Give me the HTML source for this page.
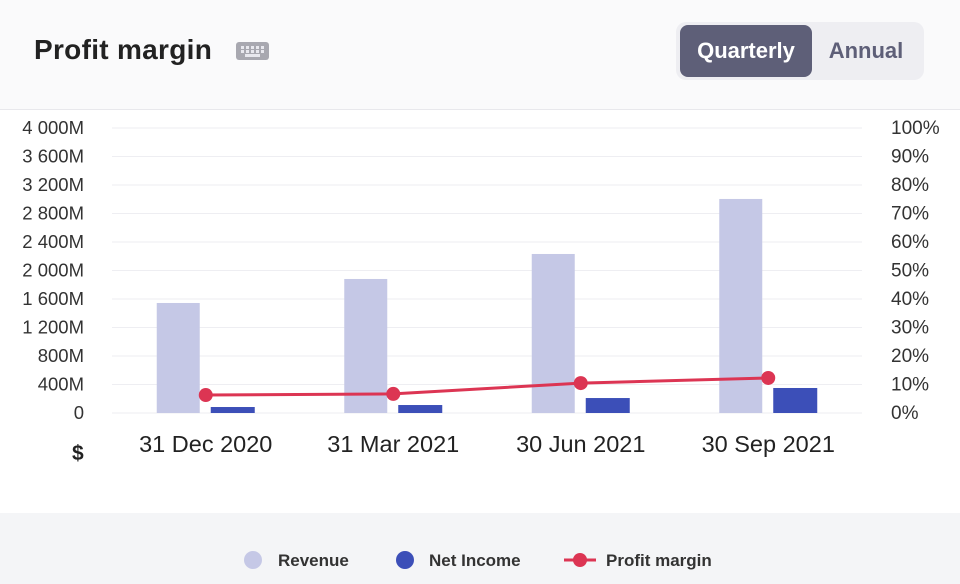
<!DOCTYPE html>
<html><head><meta charset="utf-8"><style>
body{margin:0;width:960px;height:584px;overflow:hidden;background:#fff;font-family:"Liberation Sans",sans-serif;}
#hdr{position:absolute;left:0;top:0;width:960px;height:109px;background:#fafafb;border-bottom:1px solid #e8e8ec;}
#title{position:absolute;left:34px;top:34px;font-size:28px;font-weight:bold;color:#222;letter-spacing:0.3px;}
#kbd{position:absolute;left:236px;top:42px;width:33px;height:18px;background:#a8a8b0;border-radius:3px;}
#toggle{position:absolute;left:676px;top:22px;width:248px;height:58px;background:#eeeef2;border-radius:10px;}
#q{position:absolute;left:4px;top:3px;width:132px;height:52px;background:#5e5f78;border-radius:8px;color:#fff;font-size:22px;font-weight:bold;line-height:52px;text-align:center;}
#a{position:absolute;left:146px;top:3px;width:88px;height:52px;color:#5e5f78;font-size:22px;font-weight:bold;line-height:52px;text-align:center;}
#leg{position:absolute;left:0;top:513px;width:960px;height:71px;background:#f4f5f7;}
</style></head><body>
<div id="hdr">
<div id="title">Profit margin</div>
<div id="kbd"><svg width="33" height="18"><g fill="#e8e8ee"><rect x="5" y="4" width="3" height="3"/><rect x="10" y="4" width="3" height="3"/><rect x="15" y="4" width="3" height="3"/><rect x="20" y="4" width="3" height="3"/><rect x="25" y="4" width="3" height="3"/><rect x="5" y="8" width="3" height="3"/><rect x="10" y="8" width="3" height="3"/><rect x="15" y="8" width="3" height="3"/><rect x="20" y="8" width="3" height="3"/><rect x="25" y="8" width="3" height="3"/><rect x="9" y="12" width="15" height="3"/></g></svg></div>
<div id="toggle">
<div id="q">Quarterly</div>
<div id="a">Annual</div>
</div></div>
<svg id="chart" width="960" height="584" style="position:absolute;left:0;top:0"></svg>
<div id="leg"></div>
<svg width="960" height="71" style="position:absolute;left:0;top:513px" font-family="Liberation Sans, sans-serif" font-size="17" font-weight="bold" fill="#333">
<g><circle cx="253" cy="47" r="9" fill="#c5c8e6"/><text x="278" y="53">Revenue</text></g>
<g><circle cx="405" cy="47" r="9" fill="#3c4fb8"/><text x="429" y="53">Net Income</text></g>
<g><line x1="564" y1="47" x2="596" y2="47" stroke="#dc3553" stroke-width="3"/><circle cx="580" cy="47" r="7" fill="#dc3553"/><text x="606" y="53">Profit margin</text></g>
</svg>
<script>
const categories=["31 Dec 2020","31 Mar 2021","30 Jun 2021","30 Sep 2021"];
const revenue=[1544,1881,2232,3004];
const netIncome=[84,112,210,351];
const margin=[6.3,6.7,10.5,12.3];
const leftTicks=["0","400M","800M","1 200M","1 600M","2 000M","2 400M","2 800M","3 200M","3 600M","4 000M"];
const rightTicks=["0%","10%","20%","30%","40%","50%","60%","70%","80%","90%","100%"];
const NS="http://www.w3.org/2000/svg";
const svg=document.getElementById('chart');
const x0=112,x1=862,y0=413,y1=128,band=(x1-x0)/categories.length;
const yL=v=>y0-(v/4000)*(y0-y1);
const yR=v=>y0-(v/100)*(y0-y1);
const cx=i=>x0+band*(i+0.5);
function mk(t,a){const e=document.createElementNS(NS,t);for(const k in a)e.setAttribute(k,a[k]);svg.appendChild(e);return e;}
for(let i=0;i<leftTicks.length;i++){
 const y=y0-i*(y0-y1)/10;
 const g=mk('line',{x1:x0,x2:x1,y1:y,y2:y,stroke:'#eeeef2','stroke-width':1});
 
 
 const t=mk('text',{x:84,y:y+6,'text-anchor':'end','font-size':18.5,fill:'#333','font-family':'Liberation Sans, sans-serif'});
 t.textContent=leftTicks[i];
 
 
 const r=mk('text',{x:891,y:y+6,'font-size':19,fill:'#333','font-family':'Liberation Sans, sans-serif'});
 r.textContent=rightTicks[i];
 
 
}
const cur=mk('text',{x:72,y:460,'font-size':21,'font-weight':'bold',fill:'#222','font-family':'Liberation Sans, sans-serif'});
cur.textContent='$';


categories.forEach((c,i)=>{
 const b=mk('rect',{x:cx(i)-49,y:yL(revenue[i]),width:43,height:y0-yL(revenue[i]),fill:'#c5c8e6'});
 
 
 const n=mk('rect',{x:cx(i)+5,y:yL(netIncome[i]),width:44,height:y0-yL(netIncome[i]),fill:'#3c4fb8'});
 
 
 const t=mk('text',{x:cx(i),y:452,'text-anchor':'middle','font-size':23.5,fill:'#222','font-family':'Liberation Sans, sans-serif'});
 t.textContent=c;
 
 
});
const pts=margin.map((m,i)=>cx(i)+','+yR(m)).join(' ');
const pl=mk('polyline',{points:pts,fill:'none',stroke:'#dc3553','stroke-width':3});


margin.forEach((m,i)=>{
 const p=mk('circle',{cx:cx(i),cy:yR(m),r:7,fill:'#dc3553'});
 
 
});
</script>
</body></html>
